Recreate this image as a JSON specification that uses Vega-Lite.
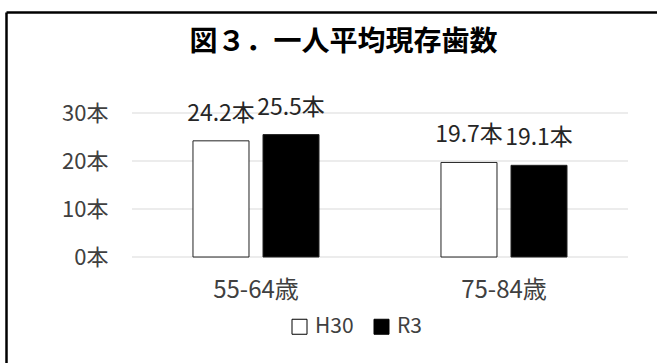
{
  "$schema": "https://vega.github.io/schema/vega-lite/v6.json",
  "width": 651,
  "height": 351,
  "autosize": {"type": "none"},
  "padding": {"left": 6, "top": 12, "right": 0, "bottom": 0},
  "background": "white",
  "title": {
    "text": "図３．一人平均現存歯数",
    "font": "Noto Sans CJK JP",
    "fontSize": 28,
    "fontWeight": "bold",
    "color": "#000000",
    "anchor": "middle",
    "baseline": "bottom",
    "dx": 12,
    "dy": 31,
    "offset": -42
  },
  "datasets": {
    "teeth": [
      {"age": "55-64歳", "year": "H30", "value": 24.2},
      {"age": "55-64歳", "year": "R3", "value": 25.5},
      {"age": "75-84歳", "year": "H30", "value": 19.7},
      {"age": "75-84歳", "year": "R3", "value": 19.1}
    ],
    "grid": [
      {"tick": 0}, {"tick": 10}, {"tick": 20}, {"tick": 30}
    ]
  },
  "layer": [
    {
      "data": {"name": "grid"},
      "mark": {"type": "rule", "color": "#d9d9d9", "strokeWidth": 1},
      "encoding": {
        "x": {"datum": "55-64歳", "type": "nominal", "bandPosition": 0,
          "scale": {"domain": ["55-64歳", "75-84歳"], "paddingInner": 0, "paddingOuter": 0.3125, "align": 0.8129},
          "axis": {"orient": "top", "domain": true, "domainColor": "#000000", "domainWidth": 2.5, "labels": false, "ticks": false, "grid": false, "title": null}},
        "x2": {"datum": "75-84歳", "bandPosition": 1},
        "y": {"field": "tick", "type": "quantitative",
          "scale": {"domain": [-22.083, 51.042], "nice": false, "zero": false},
          "axis": {"orient": "left", "domain": true, "domainColor": "#000000", "domainWidth": 2.5, "labels": false, "ticks": false, "grid": false, "title": null}}
      }
    },
    {
      "data": {"name": "teeth"},
      "mark": {"type": "bar", "stroke": "#222222", "strokeWidth": 1},
      "encoding": {
        "x": {"field": "age", "type": "nominal",
          "scale": {"domain": ["55-64歳", "75-84歳"], "paddingInner": 0, "paddingOuter": 0.3125, "align": 0.8129},
          "axis": {"orient": "bottom", "offset": -106, "domain": false, "ticks": false, "tickSize": 0, "labelPadding": 21, "labelAngle": 0,
            "labelFont": "Noto Sans CJK JP", "labelFontSize": 24, "labelColor": "#404040", "grid": false, "title": null}},
        "xOffset": {"field": "year", "type": "nominal",
          "scale": {"domain": ["H30", "R3"], "paddingInner": 0.2, "paddingOuter": 0.871}},
        "y": {"field": "value", "type": "quantitative",
          "scale": {"domain": [-22.083, 51.042], "nice": false, "zero": false},
          "axis": {"orient": "right", "offset": -549, "values": [0, 10, 20, 30], "labelExpr": "datum.value + '本'",
            "domain": false, "ticks": false, "tickSize": 0, "labelPadding": 0, "labelAlign": "right", "labelBaseline": "middle",
            "labelFont": "Noto Sans CJK JP", "labelFontSize": 22, "labelColor": "#404040", "grid": false, "title": null}},
        "y2": {"datum": 0},
        "fill": {"field": "year", "type": "nominal",
          "scale": {"domain": ["H30", "R3"], "range": ["#ffffff", "#000000"]},
          "legend": {"orient": "none", "legendX": 283, "legendY": 304, "direction": "horizontal", "title": null,
            "symbolType": "square", "symbolSize": 225, "symbolStrokeColor": "#000000", "symbolStrokeWidth": 1,
            "labelFont": "Noto Sans CJK JP", "labelFontSize": 21, "labelColor": "#404040", "labelOffset": 5, "columnPadding": 17, "padding": 0}}
      }
    },
    {
      "data": {"name": "teeth"},
      "mark": {"type": "text", "baseline": "alphabetic", "align": "center", "dy": -20,
        "font": "Noto Sans CJK JP", "fontSize": 23, "color": "#262626",
        "text": {"expr": "format(datum.value, '.1f') + '本'"}},
      "encoding": {
        "x": {"field": "age", "type": "nominal",
          "scale": {"domain": ["55-64歳", "75-84歳"], "paddingInner": 0, "paddingOuter": 0.3125, "align": 0.8129}, "axis": null},
        "xOffset": {"field": "year", "type": "nominal",
          "scale": {"domain": ["H30", "R3"], "paddingInner": 0.2, "paddingOuter": 0.871}},
        "y": {"field": "value", "type": "quantitative",
          "scale": {"domain": [-22.083, 51.042], "nice": false, "zero": false}, "axis": null}
      }
    }
  ],
  "resolve": {"axis": {"x": "independent", "y": "independent"}},
  "config": {"view": {"stroke": null}}
}
